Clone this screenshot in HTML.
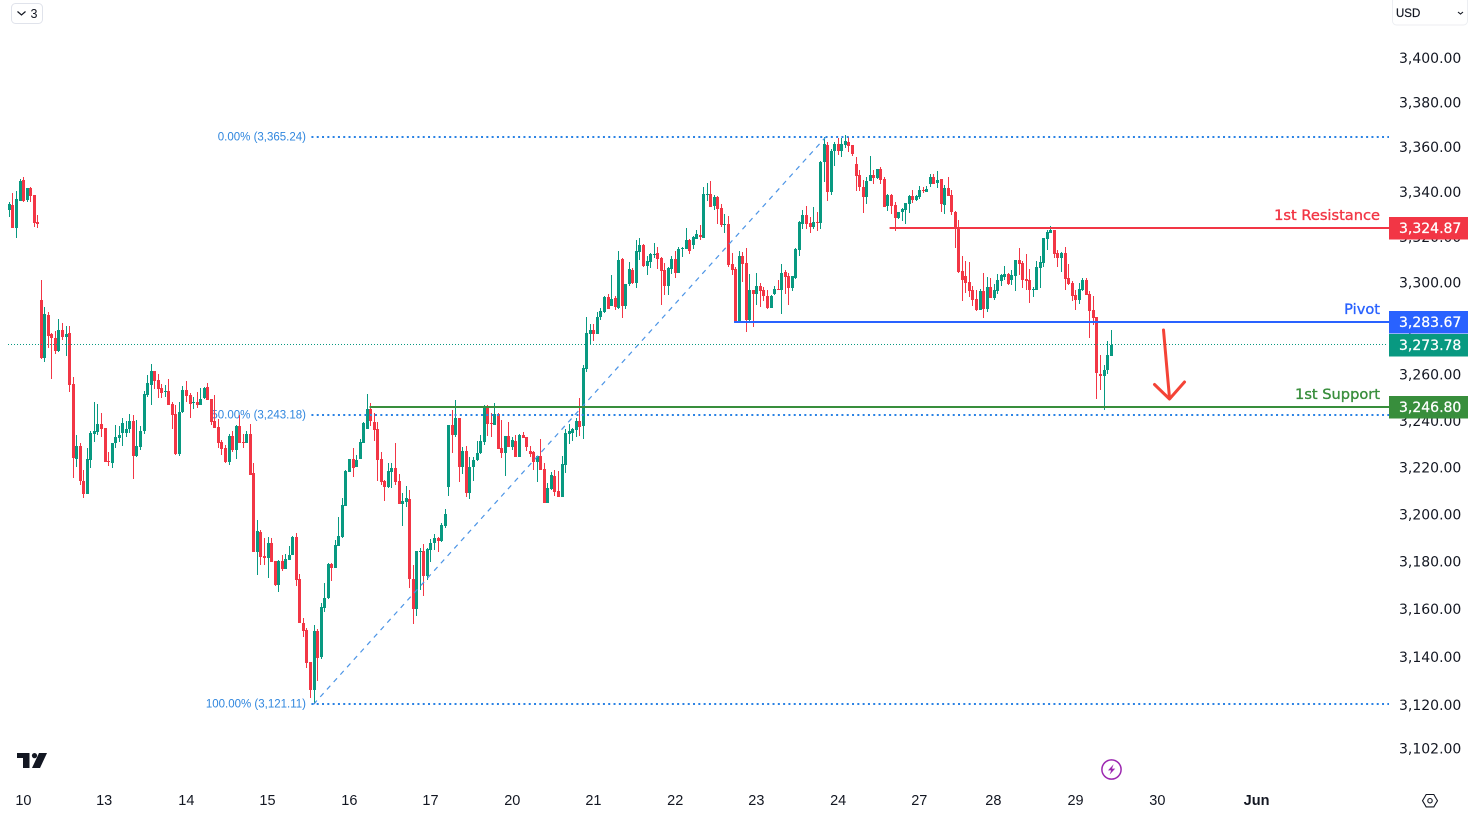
<!DOCTYPE html>
<html lang="en">
<head>
<meta charset="utf-8">
<title>Gold price candlestick chart</title>
<style>
html,body{margin:0;padding:0;background:#fff;width:1469px;height:815px;overflow:hidden}
svg{display:block;position:absolute;left:0;top:0}
text{font-family:"Liberation Sans",sans-serif}
.axis{font-family:"DejaVu Sans","Liberation Sans",sans-serif;font-size:14px;fill:#131722}
.tag{font-family:"DejaVu Sans","Liberation Sans",sans-serif;font-size:14px;fill:#fff;stroke:#fff;stroke-width:.25}
.lvl{font-family:"DejaVu Sans","Liberation Sans",sans-serif;font-size:14.6px;font-weight:400;stroke-width:.35}
.day{font-size:14.5px;fill:#131722}
</style>
</head>
<body>
<svg id="chart" xmlns="http://www.w3.org/2000/svg" width="1469" height="815" viewBox="0 0 1469 815">
  <rect x="0" y="0" width="1469" height="815" fill="#ffffff"/>
  <g id="fibLabels"></g>
  <g id="candles"></g>
  <g id="fibLines"></g>
  <g id="axisTicks"></g>
  <g id="levels"></g>
  <g id="dayTicks"></g>

  <g fill="none" stroke="#f44336" stroke-width="3" stroke-linecap="round" stroke-linejoin="round">
    <path d="M1163.5 330 L1169.5 398"/>
    <path d="M1154.5 384.5 L1169.5 399 L1184.5 382"/>
  </g>

  <g>
    <rect x="11.5" y="3.5" width="31" height="20" rx="4" fill="#fff" stroke="#e0e3eb"/>
    <path d="M17.5 11.5 L21.5 15 L25.5 11.5" fill="none" stroke="#131722" stroke-width="1.2"/>
    <text x="30.5" y="18" font-size="12.5" fill="#131722">3</text>
  </g>

  <g>
    <rect x="1392.5" y="-3" width="75" height="28" rx="4" fill="#fff" stroke="#eceef2"/>
    <text x="1396" y="17" font-size="11.5" fill="#131722" stroke="#131722" stroke-width=".2">USD</text>
    <path d="M1458 12 L1460.5 14 L1463 12" fill="none" stroke="#131722" stroke-width="1.1"/>
  </g>

  <g fill="#131722">
    <path d="M17 753 H29.5 V768 H23 V758 H17 Z"/>
    <circle cx="34.5" cy="755.6" r="2.6"/>
    <path d="M39 753 H47 L40 768 H32 Z"/>
  </g>

  <g>
    <circle cx="1111.5" cy="769.5" r="9.6" fill="#fff" stroke="#9c27b0" stroke-width="1.5"/>
    <path d="M1113.6 764.3 L1108 770.4 H1111.2 L1109.6 774.6 L1115.2 768.6 H1112 Z" fill="#9c27b0"/>
  </g>

  <g fill="none" stroke="#131722" stroke-width="1.1">
    <path d="M1426.2 794.5 H1433.8 L1437.5 800.7 L1433.8 806.9 H1426.2 L1422.5 800.7 Z"/>
    <circle cx="1430" cy="800.7" r="2.2"/>
  </g>
</svg>

<script>
var opens = [
3333.0,3335.2,3325.0,3337.0,3346.3,3337.4,3342.7,3339.6,3327.6,3293.3,
3268.0,3286.8,3278.5,3276.8,3271.1,3280.2,3277.2,3279.0,3256.8,3224.5,
3230.1,3215.1,3209.6,3224.1,3235.2,3236.1,3239.5,3237.8,3223.7,3222.8,
3231.3,3233.5,3235.7,3235.7,3237.4,3240.9,3225.8,3229.6,3236.5,3252.0,
3256.4,3262.4,3258.5,3255.1,3253.3,3253.8,3248.2,3243.8,3226.6,3244.7,
3254.2,3252.0,3248.6,3249.0,3247.7,3250.8,3255.5,3250.3,3240.9,3238.2,
3231.7,3229.2,3223.2,3234.4,3228.3,3238.7,3231.7,3231.3,3235.2,3218.5,
3184.9,3193.3,3183.2,3182.3,3188.6,3181.1,3170.9,3181.1,3177.7,3181.5,
3183.6,3191.2,3173.5,3155.0,3152.1,3138.7,3127.0,3151.7,3140.8,3161.3,
3165.5,3179.8,3178.2,3187.4,3191.2,3204.4,3218.9,3224.5,3220.9,3224.5,
3231.3,3237.4,3246.0,3240.4,3237.4,3224.5,3215.1,3212.5,3218.9,3220.6,
3215.1,3205.2,3206.1,3207.4,3173.5,3160.9,3184.9,3185.3,3174.8,3185.7,
3188.6,3190.8,3189.5,3195.9,3212.5,3239.1,3234.8,3242.1,3221.0,3227.9,
3210.0,3221.0,3224.1,3227.0,3231.7,3246.8,3240.0,3239.1,3243.8,3229.2,
3227.0,3234.4,3229.6,3232.2,3225.4,3234.8,3233.9,3227.9,3227.4,3223.2,
3225.8,3220.2,3205.7,3211.7,3217.2,3210.9,3208.2,3221.9,3235.2,3235.7,
3237.0,3240.9,3238.7,3263.4,3278.5,3280.2,3278.5,3285.7,3288.1,3294.6,
3290.7,3294.2,3289.8,3311.3,3290.7,3300.3,3306.5,3300.8,3314.4,3317.5,
3308.3,3310.0,3313.1,3313.9,3311.8,3306.5,3299.4,3306.9,3311.3,3305.2,
3315.7,3315.7,3319.7,3317.5,3320.1,3321.9,3320.6,3339.6,3340.0,3334.7,
3338.7,3333.9,3326.3,3326.7,3309.1,3306.9,3284.2,3312.6,3309.6,3284.6,
3297.7,3295.9,3299.4,3297.7,3295.1,3289.8,3295.9,3298.1,3297.7,3305.6,
3303.9,3298.6,3303.0,3315.3,3326.7,3330.8,3327.2,3325.4,3327.6,3327.2,
3354.3,3361.9,3340.9,3359.2,3362.3,3359.2,3361.9,3363.2,3361.9,3353.4,
3348.5,3343.1,3338.7,3345.8,3348.5,3347.2,3351.2,3346.7,3334.7,3339.6,
3335.2,3329.4,3332.1,3333.0,3335.6,3339.2,3337.4,3338.7,3341.8,3340.9,
3344.5,3347.6,3344.9,3346.7,3335.2,3342.7,3339.6,3332.1,3325.0,3306.1,
3303.9,3301.2,3297.7,3293.7,3289.0,3297.3,3289.4,3299.0,3294.2,3297.3,
3301.7,3303.4,3304.7,3302.1,3303.9,3310.9,3309.6,3302.5,3302.1,3297.7,
3297.7,3307.4,3309.6,3320.1,3322.8,3324.1,3313.9,3311.8,3313.9,3303.0,
3300.8,3295.5,3293.3,3297.7,3302.1,3295.9,3289.0,3285.9,3261.1,3260.3,
3262.9,3269.0];

var highs = [
3336.5,3340.5,3341.4,3346.7,3347.6,3342.7,3343.1,3339.6,3330.8,3302.1,
3290.2,3288.1,3279.0,3279.8,3285.0,3283.3,3282.0,3282.0,3259.8,3234.8,
3231.3,3219.8,3229.2,3236.5,3249.0,3248.2,3244.3,3237.8,3227.4,3231.3,
3239.1,3238.7,3242.1,3240.9,3243.8,3243.4,3241.3,3238.7,3253.8,3260.7,
3265.4,3262.4,3261.1,3256.8,3256.4,3258.9,3249.0,3247.7,3249.0,3256.0,
3258.1,3252.9,3251.2,3253.3,3255.1,3255.5,3257.2,3250.3,3252.0,3241.7,
3232.6,3230.5,3235.2,3236.5,3239.1,3243.4,3235.2,3236.5,3239.5,3222.8,
3198.5,3194.2,3190.8,3191.2,3190.8,3181.1,3181.5,3183.6,3184.0,3187.4,
3191.7,3192.9,3175.6,3157.1,3152.9,3138.7,3154.2,3152.5,3163.4,3171.8,
3180.2,3180.2,3189.9,3199.8,3207.8,3219.8,3224.5,3229.2,3226.2,3233.0,
3240.4,3252.4,3248.6,3244.3,3240.4,3227.4,3215.5,3222.8,3222.8,3231.3,
3218.1,3209.9,3212.9,3211.3,3179.4,3185.3,3186.5,3188.2,3186.5,3190.3,
3192.5,3191.2,3197.2,3203.1,3239.1,3245.6,3249.9,3242.1,3229.6,3230.1,
3225.4,3225.4,3232.2,3234.8,3247.7,3247.7,3244.3,3248.6,3244.3,3241.3,
3234.4,3240.4,3233.9,3234.8,3235.2,3236.1,3233.9,3230.1,3227.9,3225.8,
3233.0,3222.8,3214.3,3218.9,3219.8,3219.3,3225.8,3237.4,3239.5,3237.8,
3242.1,3250.8,3265.0,3285.7,3282.8,3282.8,3288.1,3289.8,3295.1,3295.9,
3304.3,3295.1,3314.9,3311.8,3300.3,3310.0,3307.4,3319.7,3320.6,3317.9,
3312.6,3314.0,3318.4,3316.6,3312.2,3309.6,3307.8,3312.6,3314.9,3316.6,
3316.6,3325.0,3320.1,3321.5,3324.1,3326.3,3343.1,3344.9,3345.8,3339.6,
3339.2,3335.6,3331.2,3330.3,3313.9,3307.8,3314.9,3314.4,3316.2,3304.7,
3297.7,3305.2,3300.8,3299.0,3297.7,3295.5,3299.4,3302.1,3309.1,3306.5,
3305.2,3303.9,3316.2,3328.1,3333.0,3334.7,3329.9,3334.3,3332.1,3354.8,
3365.4,3363.2,3360.1,3363.2,3365.0,3365.0,3366.3,3365.4,3361.9,3356.5,
3350.7,3346.3,3347.6,3357.0,3350.7,3351.2,3352.1,3347.6,3340.0,3340.0,
3336.5,3332.1,3333.9,3336.1,3339.6,3341.8,3339.6,3343.6,3343.1,3343.6,
3348.9,3348.9,3350.3,3346.7,3344.0,3347.6,3341.8,3332.6,3328.5,3312.6,
3310.5,3310.0,3299.4,3297.7,3298.1,3305.2,3303.4,3303.0,3300.3,3304.7,
3304.7,3308.3,3305.2,3306.5,3310.9,3316.2,3310.5,3313.6,3306.9,3299.0,
3310.5,3312.6,3320.6,3324.1,3325.9,3324.1,3315.3,3314.4,3316.6,3309.1,
3301.7,3297.7,3300.8,3303.0,3303.0,3297.3,3295.1,3285.9,3269.4,3265.0,
3275.5,3280.2];

var lows = [
3329.7,3325.2,3320.6,3337.0,3336.5,3336.5,3336.5,3325.4,3325.0,3267.6,
3266.3,3272.4,3258.9,3269.8,3270.6,3275.9,3268.9,3253.3,3216.4,3220.9,
3213.4,3207.8,3210.0,3220.6,3231.7,3234.8,3233.9,3223.2,3221.5,3220.6,
3229.2,3231.7,3230.1,3233.9,3235.7,3215.9,3225.4,3228.3,3235.2,3251.2,
3247.7,3254.6,3250.8,3250.8,3251.2,3247.7,3237.4,3226.2,3225.8,3244.3,
3249.0,3242.1,3246.0,3246.4,3247.7,3250.3,3249.9,3239.1,3237.8,3229.2,
3226.2,3222.8,3221.9,3227.4,3224.5,3231.3,3229.2,3231.3,3217.7,3184.9,
3175.2,3179.4,3179.4,3173.9,3180.6,3170.5,3168.0,3176.9,3178.2,3181.5,
3183.6,3170.5,3155.0,3149.2,3136.2,3123.7,3121.2,3130.8,3139.9,3159.7,
3165.1,3172.7,3178.2,3187.4,3190.8,3204.4,3218.9,3216.8,3220.9,3224.5,
3231.3,3237.4,3238.7,3232.2,3215.1,3213.4,3206.5,3212.1,3212.1,3213.4,
3205.2,3195.9,3204.0,3169.9,3154.6,3158.0,3168.8,3166.3,3173.1,3180.6,
3185.7,3184.9,3189.1,3195.0,3208.7,3227.0,3233.9,3214.7,3218.1,3208.2,
3207.3,3215.1,3223.7,3226.6,3230.5,3234.4,3233.9,3239.1,3228.7,3224.9,
3217.2,3229.6,3228.3,3225.4,3225.4,3233.5,3227.9,3225.4,3219.8,3214.7,
3219.8,3205.7,3205.7,3211.3,3208.7,3208.2,3208.2,3218.5,3230.9,3232.2,
3233.9,3234.4,3233.0,3262.0,3273.7,3275.5,3278.5,3284.6,3287.7,3289.4,
3290.7,3289.0,3289.4,3285.5,3289.4,3299.4,3300.3,3298.6,3310.9,3307.8,
3304.3,3307.4,3311.8,3306.9,3291.1,3295.5,3295.5,3304.7,3303.0,3305.2,
3312.2,3315.7,3313.5,3315.7,3320.1,3319.7,3320.6,3337.0,3334.3,3333.0,
3326.7,3325.4,3322.8,3307.8,3304.3,3283.7,3283.7,3301.2,3279.3,3284.2,
3281.5,3291.1,3290.2,3292.9,3289.4,3289.8,3295.5,3297.7,3287.2,3295.9,
3291.1,3297.3,3302.5,3312.6,3324.5,3324.5,3322.8,3324.7,3323.6,3324.5,
3345.4,3337.0,3339.6,3352.6,3357.4,3356.5,3360.5,3358.8,3357.0,3341.4,
3341.4,3331.7,3335.6,3345.8,3344.5,3346.7,3344.5,3334.3,3332.6,3331.2,
3323.6,3328.9,3328.1,3326.7,3331.7,3336.1,3337.0,3337.8,3340.5,3340.9,
3343.1,3344.5,3342.7,3332.1,3331.2,3339.2,3330.8,3316.2,3305.2,3292.9,
3296.4,3294.6,3290.7,3288.5,3289.0,3285.5,3288.1,3294.2,3293.3,3295.9,
3299.4,3302.1,3299.9,3299.9,3297.3,3304.3,3298.6,3297.7,3292.0,3294.6,
3297.7,3298.6,3307.8,3315.3,3322.8,3311.8,3307.8,3305.6,3297.7,3299.9,
3292.9,3289.0,3291.5,3297.3,3295.5,3276.8,3282.4,3250.3,3254.2,3245.6,
3261.1,3268.9];

var closes = [
3335.6,3325.0,3337.8,3345.8,3337.0,3342.7,3339.2,3327.2,3326.7,3268.0,
3287.2,3277.6,3276.8,3271.1,3280.2,3277.2,3278.5,3256.4,3224.9,3230.1,
3215.1,3209.6,3224.5,3235.7,3236.5,3239.5,3237.4,3223.2,3223.0,3231.3,
3233.9,3234.8,3240.0,3237.4,3240.9,3225.8,3230.1,3236.5,3252.4,3257.2,
3262.4,3258.1,3254.6,3252.9,3253.8,3247.7,3243.4,3226.6,3244.7,3254.2,
3251.6,3248.2,3249.0,3247.7,3250.3,3255.1,3249.9,3240.4,3237.8,3231.3,
3228.7,3223.2,3234.4,3228.3,3238.7,3231.3,3231.2,3235.2,3217.7,3184.9,
3193.7,3182.8,3182.3,3188.6,3180.6,3170.9,3181.1,3177.7,3181.9,3183.6,
3191.2,3173.1,3155.0,3151.7,3138.3,3127.0,3151.7,3140.3,3161.8,3165.5,
3179.8,3178.2,3187.8,3191.7,3204.8,3219.3,3224.5,3220.6,3224.1,3231.7,
3240.0,3246.0,3240.9,3237.0,3224.1,3214.7,3212.5,3219.3,3220.6,3214.7,
3205.2,3206.5,3207.8,3173.5,3160.9,3185.3,3185.3,3174.8,3186.1,3188.6,
3190.8,3189.5,3196.3,3201.0,3239.1,3234.8,3242.1,3221.0,3227.9,3210.0,
3221.0,3224.1,3227.0,3232.2,3246.8,3239.5,3239.3,3243.8,3228.7,3227.0,
3234.4,3229.6,3232.6,3225.4,3234.8,3233.5,3229.6,3226.6,3223.2,3225.8,
3219.8,3205.7,3212.1,3217.7,3210.4,3208.2,3222.4,3235.7,3236.5,3237.4,
3240.9,3238.2,3263.8,3279.0,3280.2,3278.5,3286.0,3288.5,3294.6,3289.4,
3293.7,3290.2,3310.9,3290.7,3300.3,3306.9,3300.8,3314.9,3317.5,3308.3,
3310.5,3313.5,3313.5,3311.3,3306.1,3299.4,3307.4,3311.3,3305.2,3315.7,
3316.2,3319.7,3314.9,3321.0,3322.3,3321.0,3340.0,3340.0,3334.3,3338.7,
3333.4,3326.3,3326.7,3308.7,3306.5,3283.7,3312.6,3309.1,3284.6,3297.7,
3295.9,3299.4,3297.3,3295.1,3289.8,3295.1,3298.1,3297.7,3305.2,3303.4,
3298.6,3303.9,3315.7,3327.6,3330.8,3326.7,3325.4,3327.6,3327.2,3354.3,
3362.3,3340.9,3359.2,3362.3,3359.2,3362.3,3363.7,3361.5,3357.8,3348.1,
3343.1,3338.7,3345.8,3348.5,3347.2,3351.2,3346.3,3334.3,3339.6,3334.7,
3329.4,3332.1,3333.4,3336.1,3339.2,3337.4,3339.2,3341.8,3341.4,3342.3,
3347.6,3344.5,3346.3,3335.6,3342.7,3339.2,3332.1,3325.0,3305.6,3302.1,
3300.8,3297.3,3293.3,3289.0,3297.3,3289.4,3299.0,3294.2,3297.7,3302.1,
3304.3,3304.7,3300.3,3304.3,3310.9,3309.1,3302.1,3301.7,3297.7,3298.1,
3307.8,3310.0,3320.6,3323.2,3324.1,3313.5,3311.8,3313.9,3302.5,3300.3,
3295.1,3293.3,3298.1,3302.1,3295.5,3288.5,3285.5,3261.5,3260.3,3262.9,
3269.4,3273.78];

var priceTicks = [3400,3380,3360,3340,3320,3300,3280,3260,3240,3220,3200,3180,3160,3140,3120,3102];
var dayLabels = ['10','13','14','15','16','17','20','21','22','23','24','27','28','29','30','Jun'];
var dayBars = [3.9,26.7,49.9,72.8,95.9,118.8,141.9,164.8,187.9,210.8,233.9,256.8,277.7,300.9,324,352];
var fibLevels = [3365.24,3243.18,3121.11];
var fibRatios = ['0.00%','50.00%','100.00%'];
var levelNames = ['1st Resistance','Pivot','1st Support'];
var levelPrices = [3324.87,3283.67,3246.80];
var levelStartBars = [248.6,204.7,101.8];
var levelColors = ['#f23645','#2962ff','#388e3c'];
var lastPrice = 3273.78;
var fibStartBar = 85.4;
var trendEndBar = 230.5;

var NS = 'http://www.w3.org/2000/svg';
var axisLeft = 1389;
function yOf(p){ return 60 + 7528 * Math.log(3400 / p); }
function xOf(i){ return 8.9 + 3.5425 * i; }
function money(v){ return v.toFixed(2).replace(/\B(?=(\d{3})+(?!\d))/g, ','); }
function make(tag, attrs, parent){
  var e = document.createElementNS(NS, tag);
  for (var k in attrs) { e.setAttribute(k, attrs[k]); }
  parent.appendChild(e);
  return e;
}

var candleLayer = document.getElementById('candles');
opens.forEach(function(o, i){
  var up = closes[i] >= o;
  var col = up ? '#089981' : '#f23645';
  var px = Math.round(xOf(i));
  var top = Math.round(yOf(Math.max(o, closes[i])));
  var bot = Math.round(yOf(Math.min(o, closes[i])));
  var hi = Math.round(yOf(highs[i]));
  var lo = Math.round(yOf(lows[i]));
  var wick = make('rect', {x: px, y: hi, width: 1, height: Math.max(1, lo - hi), fill: col, 'shape-rendering': 'crispEdges'}, candleLayer);
  
  
  var body = make('rect', {x: px - 1, y: top, width: 3, height: Math.max(1, bot - top), fill: col, 'shape-rendering': 'crispEdges'}, candleLayer);
  
  
});

var fibLabelLayer = document.getElementById('fibLabels');
var fibLineLayer = document.getElementById('fibLines');
fibLevels.forEach(function(p, i){
  var y = Math.round(yOf(p));
  var t = make('text', {x: 306, y: y + 3.4, 'text-anchor': 'end', 'font-size': 11.5, fill: '#2f86de'}, fibLabelLayer);
  t.textContent = fibRatios[i] + ' (' + money(p) + ')';
  
  
  var l = make('line', {x1: xOf(fibStartBar), x2: axisLeft, y1: y, y2: y, stroke: '#2a82e4', 'stroke-width': 2, 'stroke-dasharray': '2 3.3'}, fibLineLayer);
  
  
});
var trend = make('line', {x1: xOf(86), y1: yOf(fibLevels[2]), x2: xOf(trendEndBar), y2: yOf(fibLevels[0]), stroke: '#4b94e6', 'stroke-width': 1.2, 'stroke-dasharray': '5 5'}, fibLineLayer);



var tickLayer = document.getElementById('axisTicks');
priceTicks.forEach(function(v){
  var t = make('text', {x: 1399, y: yOf(v) - 1, 'dominant-baseline': 'central', 'class': 'axis'}, tickLayer);
  t.textContent = money(v);
  
  
});

var levelLayer = document.getElementById('levels');
var lastY = Math.round(yOf(lastPrice));
var lastLine = make('line', {x1: 8, x2: axisLeft - 2, y1: lastY - 0.5, y2: lastY - 0.5, stroke: '#089981', 'stroke-width': 1, 'stroke-dasharray': '1 2'}, levelLayer);



function priceTag(p, color, name){
  var y = yOf(p);
  var r = make('rect', {x: axisLeft, y: Math.round(y) - 11, width: 79, height: 22.5, fill: color}, levelLayer);
  
  
  var t = make('text', {x: 1399, y: Math.round(y) + 0.8, 'dominant-baseline': 'central', 'class': 'tag'}, levelLayer);
  t.textContent = money(p);
  
  
}

levelPrices.forEach(function(p, i){
  var y = Math.round(yOf(p));
  var l = make('line', {x1: xOf(levelStartBars[i]), x2: axisLeft, y1: y, y2: y, stroke: levelColors[i], 'stroke-width': 2}, levelLayer);
  
  
  var t = make('text', {x: 1380, y: y - 12.6, 'text-anchor': 'end', 'dominant-baseline': 'central', 'class': 'lvl', fill: levelColors[i], stroke: levelColors[i]}, levelLayer);
  t.textContent = levelNames[i];
  
  
});
priceTag(levelPrices[0], levelColors[0], 'resistance');
priceTag(levelPrices[1], levelColors[1], 'pivot');
priceTag(lastPrice, '#089981', 'last-price');
priceTag(levelPrices[2], levelColors[2], 'support');

var dayLayer = document.getElementById('dayTicks');
dayLabels.forEach(function(d, i){
  var t = make('text', {x: xOf(dayBars[i]) + 0.7, y: 805, 'text-anchor': 'middle', 'class': 'day'}, dayLayer);
  t.textContent = d;
  if (d === 'Jun') { t.setAttribute('font-weight', '700'); }
  
  
});
</script>
</body>
</html>
